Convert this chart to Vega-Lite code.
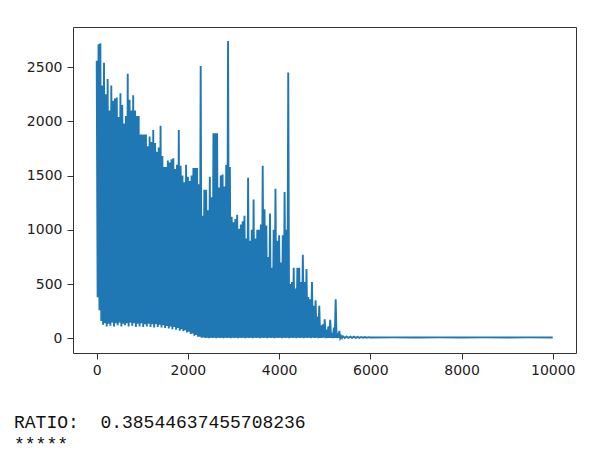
{
  "$schema": "https://vega.github.io/schema/vega-lite/v6.json",
  "width": 503,
  "height": 326,
  "autosize": {"type": "none"},
  "padding": {"left": 73, "top": 27, "right": 30, "bottom": 108},
  "background": "white",
  "config": {
    "view": {"stroke": "#333333", "strokeWidth": 1},
    "axis": {"grid": false, "domain": false, "title": null, "labelFont": "DejaVu Sans", "labelFontSize": 14, "labelColor": "#222222", "tickColor": "#333333", "tickSize": 6, "labelFlush": false, "labelOverlap": false, "format": "d"}
  },
  "title": {
    "text": ["RATIO:\u00a0\u00a00.38544637455708236", "*****"],
    "orient": "bottom",
    "anchor": "start",
    "frame": "group",
    "dx": -59,
    "offset": 37,
    "font": "Liberation Mono",
    "fontSize": 18,
    "fontWeight": "normal",
    "color": "#111111",
    "lineHeight": 22
  },
  "data": {"values": [
    {"x":0,"y":2560},{"x":20,"y":380},{"x":40,"y":2710},{"x":60,"y":260},{"x":80,"y":2720},{"x":100,"y":160},
    {"x":120,"y":2330},{"x":140,"y":125},{"x":160,"y":2540},{"x":180,"y":140},{"x":200,"y":2250},{"x":220,"y":110},
    {"x":240,"y":2390},{"x":260,"y":135},{"x":280,"y":2100},{"x":300,"y":115},{"x":320,"y":2330},{"x":340,"y":145},
    {"x":360,"y":2190},{"x":380,"y":110},{"x":400,"y":2210},{"x":420,"y":140},{"x":440,"y":2220},{"x":460,"y":120},
    {"x":480,"y":2040},{"x":500,"y":145},{"x":520,"y":2260},{"x":540,"y":110},{"x":560,"y":2150},{"x":580,"y":135},
    {"x":600,"y":1980},{"x":620,"y":120},{"x":640,"y":2050},{"x":660,"y":140},{"x":680,"y":2440},{"x":700,"y":110},
    {"x":720,"y":2200},{"x":740,"y":145},{"x":760,"y":2100},{"x":780,"y":115},{"x":800,"y":2240},{"x":820,"y":140},
    {"x":840,"y":2100},{"x":860,"y":105},{"x":880,"y":2050},{"x":900,"y":135},{"x":920,"y":2050},{"x":940,"y":110},
    {"x":960,"y":1880},{"x":980,"y":140},{"x":1000,"y":1880},{"x":1020,"y":105},{"x":1040,"y":1880},{"x":1060,"y":130},
    {"x":1080,"y":1880},{"x":1100,"y":110},{"x":1120,"y":1770},{"x":1140,"y":135},{"x":1160,"y":1860},{"x":1180,"y":105},
    {"x":1200,"y":1810},{"x":1220,"y":130},{"x":1240,"y":1920},{"x":1260,"y":100},{"x":1280,"y":1800},{"x":1300,"y":130},
    {"x":1320,"y":1720},{"x":1340,"y":105},{"x":1360,"y":1760},{"x":1380,"y":125},{"x":1400,"y":1960},{"x":1420,"y":100},
    {"x":1440,"y":1680},{"x":1460,"y":120},{"x":1480,"y":1580},{"x":1500,"y":95},{"x":1520,"y":1580},{"x":1540,"y":115},
    {"x":1560,"y":1640},{"x":1580,"y":90},{"x":1600,"y":1620},{"x":1620,"y":110},{"x":1640,"y":1650},{"x":1660,"y":85},
    {"x":1680,"y":1660},{"x":1700,"y":105},{"x":1720,"y":1560},{"x":1740,"y":80},{"x":1760,"y":1600},{"x":1780,"y":95},
    {"x":1800,"y":1920},{"x":1820,"y":70},{"x":1840,"y":1590},{"x":1860,"y":85},{"x":1880,"y":1500},{"x":1900,"y":65},
    {"x":1920,"y":1440},{"x":1940,"y":75},{"x":1960,"y":1600},{"x":1980,"y":55},{"x":2000,"y":1490},{"x":2020,"y":60},
    {"x":2040,"y":1450},{"x":2060,"y":40},{"x":2080,"y":1500},{"x":2100,"y":45},{"x":2120,"y":1570},{"x":2140,"y":25},
    {"x":2160,"y":1570},{"x":2180,"y":30},{"x":2200,"y":1570},{"x":2220,"y":15},{"x":2240,"y":1420},{"x":2260,"y":15},
    {"x":2280,"y":2510},{"x":2300,"y":5},{"x":2320,"y":1130},{"x":2340,"y":8},{"x":2360,"y":1370},{"x":2380,"y":3},
    {"x":2400,"y":1370},{"x":2420,"y":6},{"x":2440,"y":1180},{"x":2460,"y":2},{"x":2480,"y":1490},{"x":2500,"y":5},
    {"x":2520,"y":1300},{"x":2540,"y":3},{"x":2560,"y":1890},{"x":2580,"y":6},{"x":2600,"y":1890},{"x":2620,"y":2},
    {"x":2640,"y":1890},{"x":2660,"y":5},{"x":2680,"y":1390},{"x":2700,"y":3},{"x":2720,"y":1500},{"x":2740,"y":6},
    {"x":2760,"y":1510},{"x":2780,"y":2},{"x":2800,"y":1400},{"x":2820,"y":5},{"x":2840,"y":1600},{"x":2860,"y":3},
    {"x":2880,"y":2740},{"x":2900,"y":6},{"x":2920,"y":1580},{"x":2940,"y":2},{"x":2960,"y":1120},{"x":2980,"y":5},
    {"x":3000,"y":1070},{"x":3020,"y":3},{"x":3040,"y":1100},{"x":3060,"y":6},{"x":3080,"y":1140},{"x":3100,"y":2},
    {"x":3120,"y":1010},{"x":3140,"y":5},{"x":3160,"y":1050},{"x":3180,"y":3},{"x":3200,"y":1080},{"x":3220,"y":6},
    {"x":3240,"y":1130},{"x":3260,"y":2},{"x":3280,"y":920},{"x":3300,"y":5},{"x":3320,"y":1480},{"x":3340,"y":3},
    {"x":3360,"y":900},{"x":3380,"y":6},{"x":3400,"y":1000},{"x":3420,"y":2},{"x":3440,"y":1280},{"x":3460,"y":5},
    {"x":3480,"y":920},{"x":3500,"y":3},{"x":3520,"y":1000},{"x":3540,"y":6},{"x":3560,"y":1000},{"x":3580,"y":2},
    {"x":3600,"y":1050},{"x":3620,"y":5},{"x":3640,"y":1590},{"x":3660,"y":3},{"x":3680,"y":1190},{"x":3700,"y":6},
    {"x":3720,"y":1040},{"x":3740,"y":2},{"x":3760,"y":750},{"x":3780,"y":5},{"x":3800,"y":1150},{"x":3820,"y":3},
    {"x":3840,"y":650},{"x":3860,"y":6},{"x":3880,"y":1000},{"x":3900,"y":2},{"x":3920,"y":1380},{"x":3940,"y":5},
    {"x":3960,"y":900},{"x":3980,"y":3},{"x":4000,"y":950},{"x":4020,"y":6},{"x":4040,"y":700},{"x":4060,"y":2},
    {"x":4080,"y":950},{"x":4100,"y":5},{"x":4120,"y":1350},{"x":4140,"y":3},{"x":4160,"y":1000},{"x":4180,"y":6},
    {"x":4200,"y":2450},{"x":4220,"y":2},{"x":4240,"y":500},{"x":4260,"y":5},{"x":4280,"y":520},{"x":4300,"y":3},
    {"x":4320,"y":650},{"x":4340,"y":6},{"x":4360,"y":460},{"x":4380,"y":2},{"x":4400,"y":650},{"x":4420,"y":5},
    {"x":4440,"y":650},{"x":4460,"y":3},{"x":4480,"y":520},{"x":4500,"y":6},{"x":4520,"y":770},{"x":4540,"y":2},
    {"x":4560,"y":520},{"x":4580,"y":5},{"x":4600,"y":640},{"x":4620,"y":3},{"x":4640,"y":380},{"x":4660,"y":6},
    {"x":4680,"y":360},{"x":4700,"y":2},{"x":4720,"y":520},{"x":4740,"y":5},{"x":4760,"y":300},{"x":4780,"y":3},
    {"x":4800,"y":350},{"x":4820,"y":6},{"x":4840,"y":200},{"x":4860,"y":2},{"x":4880,"y":300},{"x":4900,"y":5},
    {"x":4920,"y":120},{"x":4940,"y":3},{"x":4960,"y":130},{"x":4980,"y":6},{"x":5000,"y":175},{"x":5020,"y":2},
    {"x":5040,"y":80},{"x":5060,"y":5},{"x":5080,"y":110},{"x":5100,"y":3},{"x":5120,"y":170},{"x":5140,"y":6},
    {"x":5160,"y":50},{"x":5180,"y":2},{"x":5200,"y":100},{"x":5220,"y":5},{"x":5240,"y":360},{"x":5260,"y":3},
    {"x":5280,"y":30},{"x":5300,"y":6},{"x":5320,"y":70},{"x":5340,"y":2},{"x":5360,"y":20},{"x":5380,"y":4},
    {"x":5400,"y":20},{"x":5440,"y":4},{"x":5480,"y":18},{"x":5520,"y":4},{"x":5560,"y":16},{"x":5600,"y":5},
    {"x":5640,"y":15},{"x":5680,"y":5},{"x":5720,"y":14},{"x":5760,"y":5},{"x":5800,"y":13},{"x":5840,"y":6},
    {"x":5880,"y":12},{"x":5920,"y":6},{"x":5960,"y":11},{"x":6000,"y":8},{"x":6500,"y":9},{"x":7000,"y":8},
    {"x":7500,"y":9},{"x":8000,"y":8},{"x":8500,"y":9},{"x":9000,"y":8},{"x":9500,"y":9},{"x":10000,"y":8}
  ]},
  "mark": {"type": "line", "color": "#1f77b4", "strokeWidth": 1.9, "clip": true},
  "encoding": {
    "x": {"field": "x", "type": "quantitative", "scale": {"domain": [-520, 10510], "nice": false, "zero": false}, "axis": {"values": [0, 2000, 4000, 6000, 8000, 10000], "labelPadding": 4}},
    "y": {"field": "y", "type": "quantitative", "scale": {"domain": [-135, 2870], "nice": false, "zero": false}, "axis": {"values": [0, 500, 1000, 1500, 2000, 2500], "labelPadding": 5}}
  }
}
